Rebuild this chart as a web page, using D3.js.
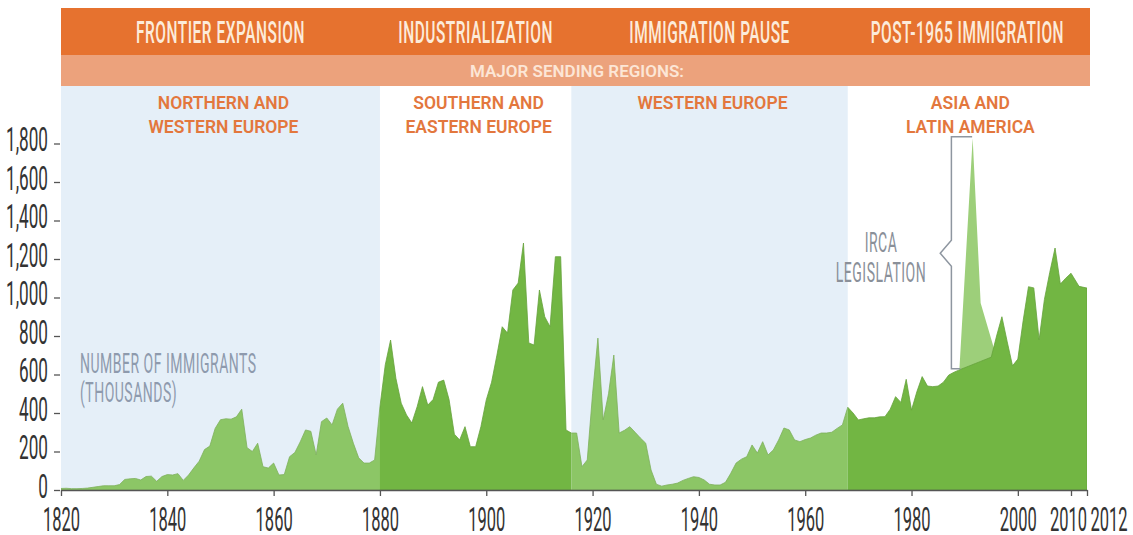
<!DOCTYPE html>
<html>
<head>
<meta charset="utf-8">
<script src="https://cdn.jsdelivr.net/npm/d3@7"></script>
<style>
  body { margin: 0; background: #fff; }
  svg { display: block; }
  text { font-family: Roboto, "Liberation Sans", sans-serif; }
</style>
</head>
<body>
<div id="chart"></div>
<script>
// yearly immigrants (thousands), 1820..2012
const startYear = 1820;
const immigrants = [
  8, 9, 7, 7, 8, 10, 14, 18, 22, 22,
  22, 28, 55, 58, 60, 52, 70, 72, 45, 70,
  80, 78, 85, 50, 78, 115, 150, 210, 228, 320,
  365, 370, 368, 380, 420, 220, 200, 243, 121, 114,
  140, 78, 80, 173, 195, 250, 312, 305, 182, 355,
  374, 338, 420, 451, 330, 243, 167, 140, 140, 156,
  433, 650, 779, 580, 451, 390, 348, 433, 537, 441,
  470, 560, 571, 470, 290, 260, 329, 225, 225, 330,
  468, 560, 700, 848, 815, 1039, 1075, 1283, 764, 753,
  1039, 900, 848, 1212, 1212, 312, 296, 296, 121, 156,
  500, 789, 364, 500, 701, 296, 310, 329, 300, 270,
  243, 104, 30, 20, 26, 30, 36, 50, 60, 69,
  65, 52, 30, 26, 26, 40, 87, 140, 160, 173,
  234, 192, 251, 182, 208, 260, 322, 312, 260, 251,
  262, 270, 285, 296, 296, 300, 320, 338, 430, 400,
  364, 370, 375, 375, 380, 381, 420, 485, 455, 575,
  415, 510, 589, 540, 537, 540, 560, 597, 612, 624,
  635, 646, 657, 668, 679, 690, 800, 900, 770, 645,
  680, 880, 1056, 1050, 780, 990, 1130, 1257, 1070, 1100,
  1126, 1058, 1049
];
const years = immigrants.map((d, i) => startYear + i);

// legalizations under IRCA stacked on top (total incl. IRCA)
const ircaYears = [1989, 1991.5, 1993, 1996];
const ircaTotals = [624, 1827, 971, 690];

const eraNames = ["FRONTIER EXPANSION", "INDUSTRIALIZATION", "IMMIGRATION PAUSE", "POST-1965 IMMIGRATION"];
const eraStart = [1820, 1880, 1916, 1968];
const eraEnd = [1880, 1916, 1968, 2012];
const regionLines = [
  ["NORTHERN AND", "WESTERN EUROPE"],
  ["SOUTHERN AND", "EASTERN EUROPE"],
  ["WESTERN EUROPE"],
  ["ASIA AND", "LATIN AMERICA"]
];

const xTickYears = [1820, 1840, 1860, 1880, 1900, 1920, 1940, 1960, 1980, 2000, 2010, 2012];
const yTicks = [0, 200, 400, 600, 800, 1000, 1200, 1400, 1600, 1800];

const width = 1133,
  height = 535;
const squeeze = 0.5; // narrow display face

const svg = d3.select("#chart").append("svg").attr("width", width).attr("height", height);

const x = d3.scaleLinear().domain([1820, 2010, 2012]).range([61, 1071, 1087]);
const y = d3.scaleLinear().domain([0, 1800]).range([490, 143.5]);

const bandTop = 86;
const eras = eraNames.map((name, i) => ({
  name,
  start: eraStart[i],
  end: eraEnd[i],
  regions: regionLines[i],
  quiet: i % 2 === 0
}));

// squeeze a text horizontally with textLength so its box stays honest
function squeezeText(sel, k = squeeze) {
  sel.each(function () {
    const len = this.getComputedTextLength();
    d3.select(this).attr("textLength", len * k).attr("lengthAdjust", "spacingAndGlyphs");
  });
  return sel;
}

function narrow(g, str, cx, baseline, size, color, anchor = "middle", weight = 400) {
  const t = g.append("text")
    .attr("x", cx)
    .attr("y", baseline)
    .attr("text-anchor", anchor)
    .attr("font-size", size)
    .attr("font-weight", weight)
    .attr("letter-spacing", 1)
    .attr("fill", color)
    .text(str);
  return squeezeText(t);
}

// background bands
svg.selectAll(".band")
  .data(eras.filter(d => d.quiet))
  .join("rect")
  .attr("class", "band")
  .attr("x", d => x(d.start))
  .attr("y", bandTop)
  .attr("width", d => x(d.end) - x(d.start))
  .attr("height", y(0) - bandTop)
  .attr("fill", "#E5EFF8");

// header bars
svg.append("rect")
  .attr("x", x(1820)).attr("y", 8)
  .attr("width", 1090 - x(1820)).attr("height", 47)
  .attr("fill", "#E6722F");
svg.append("rect")
  .attr("x", x(1820)).attr("y", 55)
  .attr("width", 1090 - x(1820)).attr("height", 31)
  .attr("fill", "#ECA27C");

eras.forEach(e => {
  const cx = (x(e.start) + x(e.end)) / 2;
  narrow(svg, e.name, cx, 43, 31, "#FCEBDA", "middle", 500);
  e.regions.forEach((line, j) => {
    svg.append("text")
      .attr("x", cx + 3)
      .attr("y", 109 + j * 24)
      .attr("text-anchor", "middle")
      .attr("font-family", "'Open Sans', sans-serif")
      .attr("font-weight", 600)
      .attr("font-size", 17.5)
      .attr("fill", "#E3773D")
      .text(line);
  });
});

svg.append("text")
  .attr("x", 577).attr("y", 77)
  .attr("text-anchor", "middle")
  .attr("font-family", "'Open Sans', sans-serif")
  .attr("font-weight", 600)
  .attr("font-size", 17)
  .attr("fill", "#FCE6D6")
  .text("MAJOR SENDING REGIONS:");

// IRCA spike (drawn first, base areas sit on top of it)
const ircaArea = d3.area()
  .x((d, i) => x(ircaYears[i]))
  .y0(y(0))
  .y1(d => y(d));
svg.append("path")
  .attr("d", ircaArea(ircaTotals))
  .attr("fill", "#9DCF7A");

// area per era, clipped
const area = d3.area()
  .x((d, i) => x(years[i]))
  .y0(y(0))
  .y1(d => y(d));

const defs = svg.append("defs");
eras.forEach((e, i) => {
  defs.append("clipPath").attr("id", "era" + i)
    .append("rect")
    .attr("x", x(e.start))
    .attr("y", 0)
    .attr("width", x(e.end) - x(e.start))
    .attr("height", height);
  svg.append("path")
    .attr("clip-path", `url(#era${i})`)
    .attr("d", area(immigrants))
    .attr("fill", e.quiet ? "#8CC666" : "#72B643")
    .attr("stroke", e.quiet ? "#7DB05C" : "#66A23C")
    .attr("stroke-width", 0.8);
});

// axes
const xAxis = svg.append("g")
  .attr("transform", `translate(0,${y(0)})`)
  .call(d3.axisBottom(x).tickValues(xTickYears).tickFormat(d3.format("d")).tickSize(6).tickSizeOuter(0));
xAxis.select(".domain").attr("stroke", "#555").attr("stroke-width", 1.6);
xAxis.selectAll(".tick line").attr("stroke", "#555").attr("stroke-width", 1.3);
const xLabels = xAxis.selectAll(".tick text")
  .attr("y", 41)
  .attr("dy", null)
  .attr("font-size", 33)
  .attr("font-family", "Roboto, sans-serif")
  .attr("fill", "#333");
squeezeText(xLabels);
// last two labels sit close together: nudge 2010 left, hang 2012 to the right
xLabels.filter(d => d === 2010).attr("x", -3);
xLabels.filter(d => d === 2012).attr("text-anchor", "start").attr("x", 3);

const yAxis = svg.append("g")
  .attr("transform", `translate(60,0)`)
  .call(d3.axisLeft(y).tickValues(yTicks).tickFormat(d3.format(",")).tickSize(6));
yAxis.select(".domain").remove();
yAxis.selectAll(".tick line").attr("stroke", "#555").attr("stroke-width", 1.3);
const yLabels = yAxis.selectAll(".tick text")
  .attr("x", -12)
  .attr("dy", 7)
  .attr("font-size", 33)
  .attr("font-family", "Roboto, sans-serif")
  .attr("fill", "#333");
squeezeText(yLabels, 0.52);

// labels
narrow(svg, "NUMBER OF IMMIGRANTS", 80, 373, 28, "#8E9AAD", "start");
narrow(svg, "(THOUSANDS)", 80, 402, 28, "#8E9AAD", "start");

narrow(svg, "IRCA", 881, 252, 28, "#8A9099");
narrow(svg, "LEGISLATION", 881, 282, 28, "#8A9099");

// IRCA bracket
const bx = x(1987.5);
const notch = y(1230);
const bracket = d3.path();
bracket.moveTo(x(1991.4), y(1835));
bracket.lineTo(bx, y(1835));
bracket.lineTo(bx, notch - 13);
bracket.lineTo(x(1985.4), notch);
bracket.lineTo(bx, notch + 13);
bracket.lineTo(bx, y(630));
bracket.lineTo(x(1989.2), y(630));
svg.append("path")
  .attr("d", bracket.toString())
  .attr("fill", "none")
  .attr("stroke", "#8E96A0")
  .attr("stroke-width", 1.5);
</script>
</body>
</html>
